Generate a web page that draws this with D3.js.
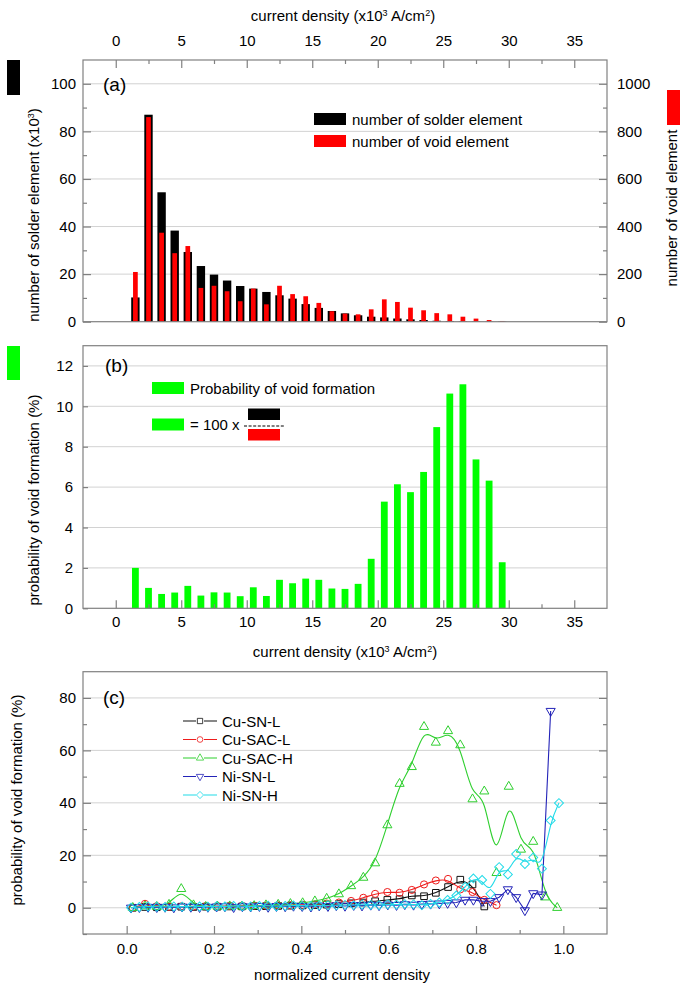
<!DOCTYPE html>
<html>
<head>
<meta charset="utf-8">
<script src="https://cdn.jsdelivr.net/npm/d3@7"></script>
<style>
  body { margin: 0; background: #fff; }
</style>
</head>
<body>
<script>
// ---------- panels (a) and (b): histogram bins of current density (x10^3 A/cm^2)
const binCenters = [1.5, 2.5, 3.5, 4.5, 5.5, 6.5, 7.5, 8.5, 9.5, 10.5, 11.5, 12.5, 13.5, 14.5, 15.5,
  16.5, 17.5, 18.5, 19.5, 20.5, 21.5, 22.5, 23.5, 24.5, 25.5, 26.5, 27.5, 28.5, 29.5];
// number of solder element (x10^3)
const solderCount = [10.2, 87.0, 54.4, 38.3, 29.3, 23.4, 19.8, 17.3, 15.0, 13.9, 12.5, 11.1, 9.7, 7.4, 5.8,
  4.5, 3.5, 2.7, 2.1, 1.8, 1.35, 1.0, 0.7, 0.4, 0.3, 0.19, 0.18, 0.11, 0.13];
// number of void element
const voidCount = [209, 860, 374, 288, 318, 142, 151, 128, 86, 139, 73, 151, 116, 107, 79,
  44, 34, 31, 52, 94, 83, 59, 48, 36, 31, 21, 13, 7, 3];
// probability of void formation (%)
const voidProb = [2.0, 1.01, 0.71, 0.78, 1.11, 0.63, 0.79, 0.78, 0.6, 1.04, 0.61, 1.41, 1.24, 1.47, 1.41,
  0.98, 0.96, 1.21, 2.45, 5.28, 6.14, 5.75, 6.75, 8.97, 10.63, 11.09, 7.37, 6.32, 2.28];

const cdTicks = [0, 5, 10, 15, 20, 25, 30, 35];
const cdMinor = [2.5, 7.5, 12.5, 17.5, 22.5, 27.5, 32.5];

// ---------- panel (c): normalized current density
const cuNorm = [0.014, 0.042, 0.069, 0.097, 0.125, 0.153, 0.181, 0.208, 0.236, 0.264, 0.292, 0.319,
  0.347, 0.375, 0.403, 0.431, 0.458, 0.486, 0.514, 0.542, 0.569, 0.597, 0.625, 0.653, 0.681, 0.708,
  0.736, 0.764, 0.792, 0.819, 0.847, 0.875, 0.903, 0.931, 0.958, 0.986];
const niNorm = [0.010, 0.029, 0.049, 0.069, 0.088, 0.108, 0.127, 0.147, 0.167, 0.186, 0.206, 0.225,
  0.245, 0.265, 0.284, 0.304, 0.324, 0.343, 0.363, 0.382, 0.402, 0.422, 0.441, 0.461, 0.480, 0.500,
  0.520, 0.539, 0.559, 0.578, 0.598, 0.618, 0.637, 0.657, 0.676, 0.696, 0.716, 0.735, 0.755, 0.775,
  0.794, 0.814, 0.833, 0.853, 0.873, 0.892, 0.912, 0.931, 0.951, 0.971, 0.990];

const cuSnL = [0.0, 0.3, 0.2, 0.3, 0.4, 0.3, 0.4, 0.4, 0.5, 0.5, 0.6, 0.6, 0.7, 0.8, 0.9, 1.0, 1.2, 1.4,
  1.7, 2.0, 2.5, 3.0, 3.3, 4.7, 4.4, 5.7, 7.9, 10.7, 8.9, 0.5];
const cuSacL = [0.0, 1.5, 0.6, 0.4, 0.5, 0.5, 0.6, 0.6, 0.7, 0.7, 0.8, 0.8, 0.9, 1.0, 1.1, 1.3, 1.6, 2.0,
  2.6, 3.8, 5.3, 6.0, 5.7, 6.8, 8.9, 10.4, 11.0, 7.0, 6.0, 3.0, 1.0];
const cuSacH = [0.0, 0.6, 0.4, 1.2, 7.2, 1.0, 0.4, 0.5, 0.6, 0.5, 0.7, 1.0, 1.2, 1.5, 1.8, 2.5, 3.5, 5.2,
  8.3, 11.5, 17.0, 31.5, 47.3, 53.7, 69.0, 63.0, 67.4, 62.0, 41.4, 44.4, 13.3, 46.2, 22.2, 25.2, 4.0, 0.0];
const niSnL = [0.0, 0.2, 0.3, 0.2, 0.3, 0.1, 0.4, 0.3, 0.2, 0.3, 0.4, 0.5, 0.2, 0.5, 0.4, 0.6, 0.3, 0.6,
  0.5, 0.7, 0.6, 0.4, 0.8, 0.6, 0.9, 0.7, 1.0, 0.8, 1.1, 0.9, 1.2, 1.0, 1.3, 1.1, 1.4, 1.5, 1.6, 1.8,
  2.0, 3.0, 3.0, 2.5, 2.5, 4.0, 7.0, 4.0, -1.0, 5.5, 5.0, 75.0];
const niSnH = [0.0, 0.3, 0.5, 0.4, 0.3, 0.5, 0.4, 0.6, 0.5, 0.4, 0.6, 0.5, 0.7, 0.6, 0.5, 0.7, 0.8, 0.6,
  0.7, 0.9, 0.8, 0.7, 0.9, 1.0, 0.9, 1.1, 1.0, 1.2, 1.1, 1.0, 1.3, 1.2, 1.4, 1.3, 1.0, 1.5, 2.0, 3.0,
  4.7, 7.9, 11.2, 10.6, 5.3, 15.5, 12.7, 20.5, 16.7, 19.2, 14.9, 33.3, 39.9];

const normTicks = [0, 0.2, 0.4, 0.6, 0.8, 1.0];
const normMinor = [0.1, 0.3, 0.5, 0.7, 0.9];

// ---------- layout
const W = 685, H = 991;
const L = 83, R = 607;
const font = "'Liberation Sans', Arial, Helvetica, sans-serif";
const frameColor = "#808080";
const gridColor = "#d2d2d2";

const svg = d3.select("body").append("svg")
  .attr("width", W).attr("height", H)
  .style("font-family", font);

function hGrid(scale, vals) {
  svg.append("g").selectAll("line").data(vals).join("line")
    .attr("x1", L).attr("x2", R)
    .attr("y1", d => scale(d)).attr("y2", d => scale(d))
    .attr("stroke", gridColor).attr("stroke-width", 1);
}

function frame(top, bottom) {
  svg.append("rect")
    .attr("x", L).attr("y", top)
    .attr("width", R - L).attr("height", bottom - top)
    .attr("fill", "none").attr("stroke", frameColor).attr("stroke-width", 1.2);
}

function drawAxis(axis, tx, ty, size) {
  const g = svg.append("g").attr("transform", `translate(${tx},${ty})`).call(axis);
  g.select(".domain").remove();
  g.selectAll(".tick line").attr("stroke", frameColor).attr("stroke-width", 1.2);
  g.selectAll("text").attr("fill", "#000")
    .style("font-size", (size || 15) + "px").style("font-family", font);
  return g;
}

// text with superscripts: parts = [[text, isSup], ...]
function richText(x, y, parts, rotate) {
  const t = svg.append("text")
    .attr("text-anchor", "middle")
    .style("font-size", "15px")
    .attr("transform", `translate(${x},${y})` + (rotate ? ` rotate(${rotate})` : ""));
  parts.forEach(([s, sup]) => {
    const sp = t.append("tspan").text(s);
    if (sup) sp.attr("baseline-shift", "super").style("font-size", "9px");
  });
  return t;
}

// ---------- panel (a)
const aTop = 60, aBot = 321.7;
const xCd = d3.scaleLinear().domain([-2.5, 37.5]).range([L, R]);
const yA = d3.scaleLinear().domain([0, 110]).range([aBot, aTop]);
const yA2 = d3.scaleLinear().domain([0, 1100]).range([aBot, aTop]);

hGrid(yA, [20, 40, 60, 80, 100]);

const blackW = xCd(0.64) - xCd(0);
const redW = xCd(0.36) - xCd(0);

svg.append("g").selectAll("rect").data(d3.zip(binCenters, solderCount)).join("rect")
  .attr("x", d => xCd(d[0]) - blackW / 2)
  .attr("width", blackW)
  .attr("y", d => yA(d[1]))
  .attr("height", d => aBot - yA(d[1]))
  .attr("fill", "#000");

svg.append("g").selectAll("rect").data(d3.zip(binCenters, voidCount)).join("rect")
  .attr("x", d => xCd(d[0]) - redW / 2)
  .attr("width", redW)
  .attr("y", d => yA2(d[1]))
  .attr("height", d => aBot - yA2(d[1]))
  .attr("fill", "#ff0000");

frame(aTop, aBot);

drawAxis(d3.axisTop(xCd).tickValues(cdTicks).tickSize(-8).tickPadding(14), 0, aTop);
drawAxis(d3.axisTop(xCd).tickValues(cdMinor).tickSize(-4).tickFormat(""), 0, aTop);
drawAxis(d3.axisLeft(yA).tickValues([0, 20, 40, 60, 80, 100]).tickSize(-8).tickPadding(7), L, 0);
drawAxis(d3.axisLeft(yA).tickValues([10, 30, 50, 70, 90]).tickSize(-4).tickFormat(""), L, 0);
drawAxis(d3.axisRight(yA2).tickValues([0, 200, 400, 600, 800, 1000]).tickSize(-8).tickPadding(10)
  .tickFormat(d3.format("d")), R, 0);
drawAxis(d3.axisRight(yA2).tickValues([100, 300, 500, 700, 900]).tickSize(-4).tickFormat(""), R, 0);

richText(343, 21, [["current density (x10", false], ["3", true], [" A/cm", false], ["2", true], [")", false]]);

// side colour keys and titles
svg.append("rect").attr("x", 7).attr("y", 60).attr("width", 13).attr("height", 35).attr("fill", "#000");
richText(39, 215, [["number of solder element (x10", false], ["3", true], [")", false]], -90);
svg.append("rect").attr("x", 667).attr("y", 90).attr("width", 13).attr("height", 35).attr("fill", "#ff0000");
richText(677, 208, [["number of void element", false]], -90);

svg.append("text").attr("x", 103).attr("y", 91).style("font-size", "19px").text("(a)");

// legend (a)
const legA = [["#000", "number of solder element", 119], ["#ff0000", "number of void element", 141]];
legA.forEach(([c, label, cy]) => {
  svg.append("rect").attr("x", 314).attr("y", cy - 6).attr("width", 32).attr("height", 12).attr("fill", c);
  svg.append("text").attr("x", 352).attr("y", cy + 5.5).style("font-size", "15px").text(label);
});

// ---------- panel (b)
const bTop = 345.7, bBot = 608.3;
const yB = d3.scaleLinear().domain([0, 13]).range([bBot, bTop]);

hGrid(yB, [2, 4, 6, 8, 10, 12]);

const greenW = xCd(0.52) - xCd(0);
svg.append("g").selectAll("rect").data(d3.zip(binCenters, voidProb)).join("rect")
  .attr("x", d => xCd(d[0]) - greenW / 2)
  .attr("width", greenW)
  .attr("y", d => yB(d[1]))
  .attr("height", d => bBot - yB(d[1]))
  .attr("fill", "#00ff00");

frame(bTop, bBot);

drawAxis(d3.axisBottom(xCd).tickValues(cdTicks).tickSize(-8).tickPadding(8), 0, bBot);
drawAxis(d3.axisBottom(xCd).tickValues(cdMinor).tickSize(-4).tickFormat(""), 0, bBot);
drawAxis(d3.axisLeft(yB).tickValues([0, 2, 4, 6, 8, 10, 12]).tickSize(-5).tickPadding(10), L, 0);

richText(345, 657, [["current density (x10", false], ["3", true], [" A/cm", false], ["2", true], [")", false]]);

svg.append("rect").attr("x", 7).attr("y", 346).attr("width", 13).attr("height", 34).attr("fill", "#00ff00");
richText(39, 500, [["probability of void formation (%)", false]], -90);

svg.append("text").attr("x", 105).attr("y", 372).style("font-size", "19px").text("(b)");

// legend (b)
svg.append("rect").attr("x", 152).attr("y", 382).attr("width", 32).attr("height", 12).attr("fill", "#00ff00");
svg.append("text").attr("x", 190).attr("y", 393.5).style("font-size", "15px").text("Probability of void formation");
svg.append("rect").attr("x", 152).attr("y", 418.5).attr("width", 32).attr("height", 12).attr("fill", "#00ff00");
svg.append("text").attr("x", 190).attr("y", 430).style("font-size", "15px").text("= 100 x");
svg.append("rect").attr("x", 248).attr("y", 408.5).attr("width", 32).attr("height", 11.5).attr("fill", "#000");
svg.append("line").attr("x1", 244).attr("x2", 284).attr("y1", 426).attr("y2", 426)
  .attr("stroke", "#000").attr("stroke-width", 1).attr("stroke-dasharray", "3,1.6");
svg.append("rect").attr("x", 248).attr("y", 429).attr("width", 32).attr("height", 11.5).attr("fill", "#ff0000");

// ---------- panel (c)
const cTop = 671.7, cBot = 934;
const xN = d3.scaleLinear().domain([-0.1, 1.1]).range([L, R]);
const yC = d3.scaleLinear().domain([-10, 90]).range([cBot, cTop]);

hGrid(yC, [0, 20, 40, 60, 80]);

const series = [
  { name: "Cu-SN-L", xs: cuNorm, ys: cuSnL, color: "#111111", sym: "square", curve: d3.curveBasis },
  { name: "Cu-SAC-L", xs: cuNorm, ys: cuSacL, color: "#ee1c1c", sym: "circle", curve: d3.curveBasis },
  { name: "Cu-SAC-H", xs: cuNorm, ys: cuSacH, color: "#2fcf2f", sym: "triUp", curve: d3.curveBasis },
  { name: "Ni-SN-L", xs: niNorm, ys: niSnL, color: "#2323b8", sym: "triDown", curve: d3.curveLinear },
  { name: "Ni-SN-H", xs: niNorm, ys: niSnH, color: "#22dbe8", sym: "diamond", curve: d3.curveBasis }
];

const symPath = {
  square: d3.symbol(d3.symbolSquare, 44)(),
  circle: d3.symbol(d3.symbolCircle, 40)(),
  triUp: d3.symbol(d3.symbolTriangle, 36)(),
  triDown: d3.symbol(d3.symbolTriangle, 36)(),
  diamond: d3.symbol(d3.symbolSquare, 40)()
};
const symRot = { square: 0, circle: 0, triUp: 0, triDown: 180, diamond: 45 };

const plotC = svg.append("g");
series.forEach(s => {
  const pts = s.ys.map((v, i) => [s.xs[i], v]);
  plotC.append("path").datum(pts)
    .attr("d", d3.line().x(d => xN(d[0])).y(d => yC(d[1])).curve(s.curve))
    .attr("fill", "none").attr("stroke", s.color).attr("stroke-width", 1.1);
  plotC.append("g").selectAll("path").data(pts).join("path")
    .attr("d", symPath[s.sym])
    .attr("transform", d => `translate(${xN(d[0])},${yC(d[1])}) rotate(${symRot[s.sym]})`)
    .attr("fill", "none").attr("stroke", s.color).attr("stroke-width", 1);
});

frame(cTop, cBot);

drawAxis(d3.axisBottom(xN).tickValues(normTicks).tickSize(-8).tickPadding(9).tickFormat(d3.format(".1f")), 0, cBot);
drawAxis(d3.axisBottom(xN).tickValues(normMinor).tickSize(-4).tickFormat(""), 0, cBot);
drawAxis(d3.axisLeft(yC).tickValues([0, 20, 40, 60, 80]).tickSize(-8).tickPadding(7), L, 0);
drawAxis(d3.axisLeft(yC).tickValues([-10, 10, 30, 50, 70]).tickSize(-4).tickFormat(""), L, 0);
drawAxis(d3.axisRight(yC).tickValues([0, 20, 40, 60, 80]).tickSize(-8).tickFormat(""), R, 0);
drawAxis(d3.axisRight(yC).tickValues([10, 30, 50, 70]).tickSize(-4).tickFormat(""), R, 0);

richText(342, 980, [["normalized current density", false]]);
richText(22, 800, [["probability of void formation (%)", false]], -90);

svg.append("text").attr("x", 103).attr("y", 704).style("font-size", "19px").text("(c)");

// legend (c)
const legC = svg.append("g");
series.forEach((s, i) => {
  const cy = 721 + i * 18.5;
  legC.append("line").attr("x1", 183).attr("x2", 217).attr("y1", cy).attr("y2", cy)
    .attr("stroke", s.color).attr("stroke-width", 1.1);
  legC.append("rect").attr("x", 196).attr("y", cy - 4).attr("width", 8).attr("height", 8).attr("fill", "#fff");
  legC.append("path").attr("d", symPath[s.sym])
    .attr("transform", `translate(200,${cy}) rotate(${symRot[s.sym]}) scale(0.8)`)
    .attr("fill", "none").attr("stroke", s.color).attr("stroke-width", 1);
  legC.append("text").attr("x", 222).attr("y", cy + 5.5).style("font-size", "15px").text(s.name);
});
</script>
</body>
</html>
